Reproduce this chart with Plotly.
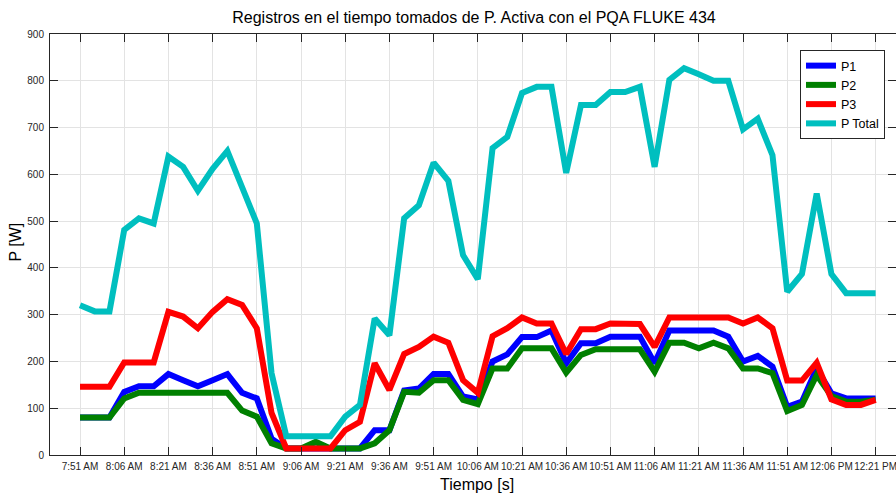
import pandas as pd
import plotly.graph_objects as go

# ---- data ----
start_time = "2024-01-01 07:51"
n_points = 55  # one sample every 5 minutes, 7:51 AM .. 12:21 PM

p1 = [80, 80, 80, 135, 147, 147, 173, 160, 147, 160, 173, 133, 121, 35, 14, 14, 14, 14, 14, 14,
      53, 53, 138, 142, 173, 173, 125, 119, 200, 215, 252, 252, 266, 196, 239, 239, 253, 253, 253, 196,
      266, 266, 266, 266, 253, 200, 212, 189, 103, 114, 185, 132, 121, 121, 121]
p2 = [80, 80, 80, 121, 133, 133, 133, 133, 133, 133, 133, 95, 82, 25, 14, 14, 28, 14, 14, 14,
      25, 53, 135, 133, 160, 160, 118, 109, 185, 185, 228, 228, 228, 176, 214, 226, 226, 226, 226, 178,
      240, 240, 228, 240, 228, 185, 185, 175, 94, 107, 171, 126, 114, 114, 118]
p3 = [146, 146, 146, 198, 198, 198, 306, 296, 271, 306, 333, 321, 271, 90, 14, 14, 14, 14, 53, 71,
      196, 139, 216, 231, 253, 240, 160, 133, 254, 271, 294, 281, 281, 216, 269, 269, 281, 280, 280, 231,
      294, 294, 294, 294, 294, 281, 294, 271, 159, 159, 197, 119, 107, 107, 118]
p_total = [320, 307, 307, 481, 506, 495, 638, 616, 565, 612, 650, 576, 495, 175, 40, 40, 40, 40, 82, 107,
           292, 256, 506, 534, 625, 586, 427, 376, 656, 680, 774, 787, 787, 603, 748, 748, 776, 776, 787, 616,
           802, 827, 814, 800, 800, 696, 719, 641, 349, 387, 559, 387, 346, 346, 346]

tick_labels = ["7:51 AM", "8:06 AM", "8:21 AM", "8:36 AM", "8:51 AM", "9:06 AM", "9:21 AM",
               "9:36 AM", "9:51 AM", "10:06 AM", "10:21 AM", "10:36 AM", "10:51 AM", "11:06 AM",
               "11:21 AM", "11:36 AM", "11:51 AM", "12:06 PM", "12:21 PM"]

series_names = ["P1", "P2", "P3", "P Total"]
series_colors = ["#0000FF", "#008000", "#FF0000", "#00BFBF"]

times = pd.date_range(start_time, periods=n_points, freq="5min")
tick_vals = pd.date_range(start_time, periods=len(tick_labels), freq="15min")

FONT = "Liberation Sans, Arial, Helvetica, sans-serif"
AX = "#262626"

fig = go.Figure()
for name, vals, col in zip(series_names, [p1, p2, p3, p_total], series_colors):
    fig.add_trace(go.Scatter(x=times, y=vals, mode="lines", name=name,
                             line=dict(color=col, width=6)))

W, H = 896, 493
L, R, T, B = 50, 0, 34, 38
pw, ph = W - L - R, H - T - B

fig.update_layout(
    width=W, height=H,
    margin=dict(l=L, r=R, t=T, b=B, pad=0, autoexpand=False),
    paper_bgcolor="white", plot_bgcolor="white",
    font=dict(family=FONT, color=AX, size=10),
    title=dict(text="Registros en el tiempo tomados de P. Activa con el PQA FLUKE 434",
               font=dict(size=16, color="black", family=FONT),
               x=(474 - L) / pw, xref="paper", xanchor="center",
               y=1 - 17 / H, yref="container", yanchor="middle"),
    showlegend=True,
    legend=dict(x=(800 - L) / pw, y=(H - B - 50) / ph, xanchor="left", yanchor="top",
                bgcolor="white", bordercolor=AX, borderwidth=1,
                font=dict(size=12.5, color="black", family=FONT),
                itemwidth=30, tracegroupgap=0, traceorder="normal"),
    xaxis=dict(
        range=[pd.Timestamp("2024-01-01 07:40:49"), pd.Timestamp("2024-01-01 12:27:55")],
        tickmode="array", tickvals=tick_vals, ticktext=tick_labels, tickangle=0,
        ticklabeloverflow="allow",
        showgrid=True, gridcolor="#e3e3e3", gridwidth=1,
        showline=True, linecolor=AX, linewidth=1, mirror="ticks",
        ticks="inside", ticklen=8, tickcolor=AX, tickwidth=1,
        tickfont=dict(size=10, color=AX, family=FONT), zeroline=False,
        ticklabelstandoff=2, automargin=False,
    ),
    yaxis=dict(
        range=[0, 900], tickmode="linear", tick0=0, dtick=100,
        showgrid=True, gridcolor="#e3e3e3", gridwidth=1,
        showline=True, linecolor=AX, linewidth=1, mirror="ticks",
        ticks="inside", ticklen=8, tickcolor=AX, tickwidth=1,
        tickfont=dict(size=10, color=AX, family=FONT), zeroline=False,
        ticklabelstandoff=3, automargin=False,
    ),
    annotations=[
        dict(text="Tiempo [s]", xref="paper", yref="paper",
             x=(477 - L) / pw, y=-(484 - (H - B)) / ph, xanchor="center", yanchor="middle",
             showarrow=False, font=dict(size=16, color="black", family=FONT)),
        dict(text="P [W]", xref="paper", yref="paper", textangle=-90,
             x=-(L - 15) / pw, y=(H - B - 242.5) / ph, xanchor="center", yanchor="middle",
             showarrow=False, font=dict(size=16, color="black", family=FONT)),
    ],
)

fig.write_html("out.html",
               config={"displayModeBar": False},
               post_script="document.body.style.margin='0';document.body.style.padding='0';"
                           "document.body.style.overflow='hidden';")
